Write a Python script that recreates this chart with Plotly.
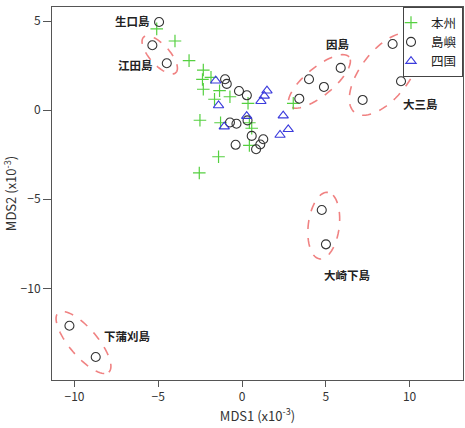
import numpy as np
import plotly.graph_objects as go

# ---- data (units of 1e-3) ----
honshu_x = [-5.09, -4.00, -3.16, -2.31, -2.36, -1.85, -2.31, -1.34, -1.64, -0.72,
            0.36, -2.51, -1.28, 0.44, 0.58, 0.44, -1.40, -2.55, 3.06]
honshu_y = [4.57, 3.89, 2.79, 2.26, 1.73, 1.85, 1.18, 1.10, 0.62, 0.76,
            0.39, -0.56, -0.70, -0.70, -1.01, -1.97, -2.61, -3.52, 0.39]

island_x = [-4.95, -5.35, -4.49, -1.01, -0.91, -0.18, 0.29, -0.72, -0.33, 0.33,
            0.58, -0.38, 1.27, 1.09, 0.84, 3.42, 4.00, 4.89, 5.89, 8.99,
            9.49, 7.20, 4.76, 5.01, -10.30, -8.73]
island_y = [4.96, 3.65, 2.64, 1.74, 1.48, 1.08, 0.84, -0.69, -0.76, -0.57,
            -1.44, -1.94, -1.63, -1.92, -2.19, 0.65, 1.74, 1.31, 2.38, 3.72,
            1.63, 0.58, -5.60, -7.53, -12.10, -13.86]

shikoku_x = [-1.57, -1.40, -1.06, 0.28, 1.13, 1.33, 1.49, 2.46, 2.76, 2.27]
shikoku_y = [1.66, 0.27, -0.92, -0.33, 0.51, 0.81, 1.10, -0.30, -1.07, -1.39]

label_text = ["生口島", "江田島", "因島", "大三島", "大崎下島", "下蒲刈島"]
label_x = [-6.56, -6.38, 5.73, 10.68, 6.32, -6.86]
label_y = [5.03, 2.53, 3.75, 0.38, -9.25, -12.66]

# ellipses: center (data), semi-axes (px), angle (deg, screen)
ell_cx = [-4.91, 4.62, 8.53, 4.88, -9.46]
ell_cy = [3.11, 1.62, 2.04, -6.48, -13.04]
ell_a = [24, 38.5, 49, 33.5, 39]
ell_b = [10, 14, 24, 15.5, 14]
ell_ang = [-48, 39.5, 52, 83, -49.6]

x_range = [-11.34, 13.19]
y_range = [-15.15, 5.80]

W, H = 465, 428
ml, mr, mt, mb = 52, 2, 7, 48
sx = (W - ml - mr) / (x_range[1] - x_range[0])
sy = (H - mt - mb) / (y_range[1] - y_range[0])

fig = go.Figure()

fig.add_trace(go.Scatter(x=honshu_x, y=honshu_y, mode="markers", name="本州",
                         marker=dict(symbol="cross-thin", size=9,
                                     line=dict(color="#55d040", width=1.2),
                                     color="#55d040")))
fig.add_trace(go.Scatter(x=island_x, y=island_y, mode="markers", name="島嶼",
                         marker=dict(symbol="circle-open", size=9,
                                     line=dict(color="#333333", width=1.1),
                                     color="#333333")))
fig.add_trace(go.Scatter(x=shikoku_x, y=shikoku_y, mode="markers", name="四国",
                         marker=dict(symbol="triangle-up-open", size=9,
                                     line=dict(color="#3b3bdc", width=1.1),
                                     color="#3b3bdc")))

shapes = []
t = np.linspace(0, 2 * np.pi, 73)
for cx, cy, a, b, ang in zip(ell_cx, ell_cy, ell_a, ell_b, ell_ang):
    th = np.radians(ang)
    dx = a * np.cos(t) * np.cos(th) - b * np.sin(t) * np.sin(th)
    dy = a * np.cos(t) * np.sin(th) + b * np.sin(t) * np.cos(th)
    xs = cx + dx / sx
    ys = cy + dy / sy
    path = "M " + " L ".join(f"{xx:.4f},{yy:.4f}" for xx, yy in zip(xs, ys)) + " Z"
    shapes.append(dict(type="path", path=path, xref="x", yref="y",
                       line=dict(color="rgb(240,130,130)", width=1.6, dash="dash"),
                       layer="below"))

annotations = []
for txt, lx, ly in zip(label_text, label_x, label_y):
    annotations.append(dict(x=lx, y=ly, text=f"<b>{txt}</b>", showarrow=False,
                            xref="x", yref="y",
                            font=dict(family="Noto Sans CJK JP", size=11.5,
                                      color="#222222")))

fig.update_layout(
    width=W, height=H,
    margin=dict(l=ml, r=mr, t=mt, b=mb),
    plot_bgcolor="white", paper_bgcolor="white",
    font=dict(family="Noto Sans CJK JP, Noto Sans, sans-serif", color="#333333", size=12),
    shapes=shapes, annotations=annotations,
    showlegend=True,
    legend=dict(x=1, y=1, xanchor="right", yanchor="top",
                bgcolor="white", bordercolor="#444444", borderwidth=1,
                font=dict(size=12.5, color="#222222"),
                itemwidth=30, tracegroupgap=0, indentation=-13),
    xaxis=dict(range=x_range, tickvals=[-10, -5, 0, 5, 10],
               showline=True, mirror=True, linecolor="#555555", linewidth=1,
               showgrid=False, zeroline=False,
               ticks="outside", ticklen=6, tickcolor="#555555",
               tickfont=dict(size=12, color="#333333"),
               title=dict(text="MDS1 (x10<sup>-3</sup>)", font=dict(size=13),
                          standoff=6)),
    yaxis=dict(range=y_range, tickvals=[-10, -5, 0, 5],
               showline=True, mirror=True, linecolor="#555555", linewidth=1,
               showgrid=False, zeroline=False,
               ticks="outside", ticklen=8, tickcolor="#555555",
               tickfont=dict(size=12, color="#333333"),
               title=dict(text="MDS2 (x10<sup>-3</sup>)", font=dict(size=13),
                          standoff=4)),
)

fig.write_html("out.html",
               config={"displayModeBar": False},
               post_script="document.body.style.margin='0px';")
